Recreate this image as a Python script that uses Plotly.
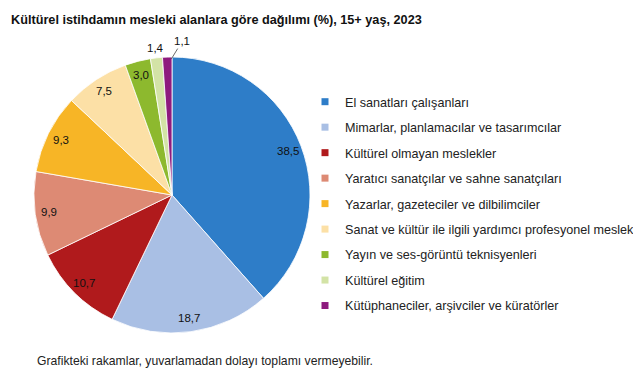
import math
import plotly.graph_objects as go

categories = [
    "El sanatları çalışanları",
    "Mimarlar, planlamacılar ve tasarımcılar",
    "Kültürel olmayan meslekler",
    "Yaratıcı sanatçılar ve sahne sanatçıları",
    "Yazarlar, gazeteciler ve dilbilimciler",
    "Sanat ve kültür ile ilgili yardımcı profesyonel meslek mensupları",
    "Yayın ve ses-görüntü teknisyenleri",
    "Kültürel eğitim",
    "Kütüphaneciler, arşivciler ve küratörler",
]
values = [38.5, 18.7, 10.7, 9.9, 9.3, 7.5, 3.0, 1.4, 1.1]
value_labels = ["38,5", "18,7", "10,7", "9,9", "9,3", "7,5", "3,0", "1,4", "1,1"]
colors = ["#2E7DC8", "#A9BFE4", "#B01A1C", "#DD8A74", "#F7B526",
          "#FCE0A6", "#8DB92E", "#D3E3A6", "#8E1A7E"]

W, H = 641, 380
OFF = 8  # page body margin
FONT = "Liberation Sans, Arial, sans-serif"


def xp(x):
    return (x - OFF) / W


def yp(y):
    return 1 - (y - OFF) / H


# pie geometry (screen pixels)
cx, cy, R = 172, 195, 138

fig = go.Figure()
fig.add_trace(go.Pie(
    labels=categories, values=values, sort=False, direction="clockwise",
    rotation=0, marker=dict(colors=colors, line=dict(color="white", width=0.8)),
    textinfo="none", hoverinfo="label+value", showlegend=False,
    domain=dict(x=[xp(cx - R), xp(cx + R)], y=[yp(cy + R), yp(cy - R)]),
))

# legend via marker-only traces
for i, (c, col) in enumerate(zip(categories, colors)):
    fig.add_trace(go.Scatter(
        x=[None], y=[None], mode="markers", name=c,
        marker=dict(symbol="square", size=7, color=col),
        legendgroup=f"g{i}", showlegend=True,
    ))

# value labels
total = sum(values)
annotations = []
cum = 0.0
lab_font = dict(family=FONT, size=11.5, color="#111")
for i, (v, t) in enumerate(zip(values, value_labels)):
    theta = 2 * math.pi * (cum + v / 2) / total
    cum += v
    if i < 7:
        rr = 0.9 * R
        px = cx + rr * math.sin(theta)
        py = cy - rr * math.cos(theta)
        annotations.append(dict(x=xp(px), y=yp(py), xref="paper", yref="paper",
                                xanchor="center", yanchor="middle",
                                text=t, showarrow=False, font=lab_font))
    elif i == 7:
        rr = R + 10
        px = cx + rr * math.sin(theta)
        py = cy - rr * math.cos(theta)
        annotations.append(dict(x=xp(px), y=yp(py), xref="paper", yref="paper",
                                xanchor="center", yanchor="middle",
                                text=t, showarrow=False, font=lab_font))
    else:
        px = cx + (R - 1) * math.sin(theta) + 4
        py = cy - (R - 1) * math.cos(theta) + 1
        annotations.append(dict(x=xp(px), y=yp(py), xref="paper", yref="paper",
                                xanchor="center", yanchor="middle",
                                text=t, showarrow=True, arrowhead=0, arrowwidth=0.8,
                                arrowcolor="#444", ax=11, ay=-18, standoff=0,
                                font=lab_font))

annotations.append(dict(x=xp(9), y=yp(20), xref="paper", yref="paper",
                        xanchor="left", yanchor="middle", showarrow=False,
                        text="<b>Kültürel istihdamın mesleki alanlara göre dağılımı (%), 15+ yaş, 2023</b>",
                        font=dict(family=FONT, size=12.7, color="#111")))
annotations.append(dict(x=xp(35), y=yp(361), xref="paper", yref="paper",
                        xanchor="left", yanchor="middle", showarrow=False,
                        text="Grafikteki rakamlar, yuvarlamadan dolayı toplamı vermeyebilir.",
                        font=dict(family=FONT, size=12.2, color="#222")))

fig.update_layout(
    width=W, height=H,
    margin=dict(l=0, r=0, t=0, b=0, autoexpand=False),
    paper_bgcolor="white", plot_bgcolor="white",
    xaxis=dict(visible=False), yaxis=dict(visible=False),
    annotations=annotations,
    legend=dict(x=xp(305), y=yp(87), xanchor="left", yanchor="top",
                font=dict(family=FONT, size=12.6, color="#222"),
                tracegroupgap=6.1, bgcolor="rgba(0,0,0,0)"),
    font=dict(family=FONT),
)

fig.write_html("out.html")
